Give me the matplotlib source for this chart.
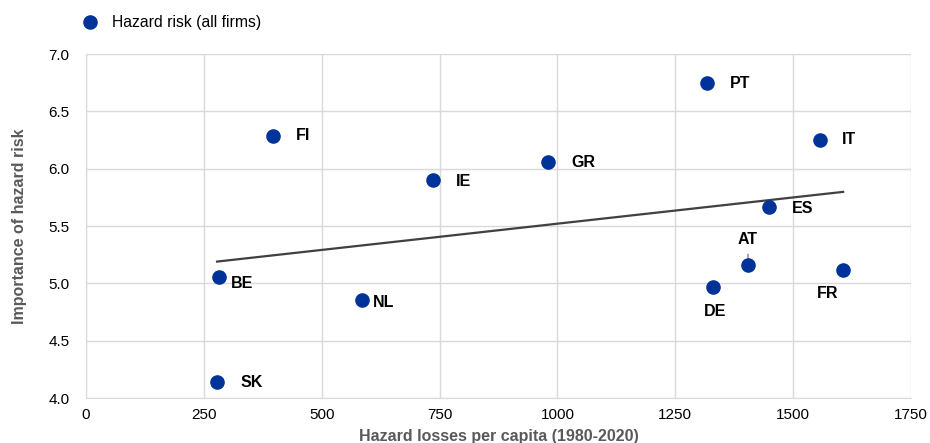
import matplotlib.pyplot as plt
import numpy as np

plt.rcParams['font.family'] = ['Liberation Sans', 'DejaVu Sans']

countries = ["FI", "PT", "IT", "GR", "IE", "ES", "AT", "FR", "DE", "BE", "NL", "SK"]
losses = [397, 1317, 1557, 980, 736, 1449, 1404, 1606, 1330, 282, 585, 278]
importance = [6.285, 6.747, 6.25, 6.058, 5.90, 5.67, 5.16, 5.116, 4.97, 5.055, 4.855, 4.14]

# label offsets in pixels (dx, dy); dx > 5 means left edge of text, else centre
offsets = {
    "FI": (23, 0), "PT": (23, 0), "IT": (22, 0), "GR": (23, 0), "IE": (23, -1),
    "ES": (23, -2), "AT": (0, 25), "FR": (-15, -23), "DE": (2, -25),
    "BE": (12, -6), "NL": (11, -3), "SK": (23, -1),
}

blue = '#003399'

fig = plt.figure(figsize=(9.3, 4.43), dpi=100)
ax = fig.add_axes([86/930, 1-398/443, (911-86)/930, (398-54)/443])

ax.scatter(losses, importance, s=90, color=blue, zorder=3, label="Hazard risk (all firms)")

# linear trend
x = np.array(losses, dtype=float)
y = np.array(importance)
k, b = np.polyfit(x, y, 1)
xs = np.array([x.min(), x.max()])
ax.plot(xs, k*xs + b, color='#404040', lw=1.6, zorder=2)

for c, xv, yv in zip(countries, losses, importance):
    dx, dy = offsets[c]
    if c == "AT":
        ax.annotate(c, (xv, yv), xytext=(dx, dy), textcoords='offset pixels',
                    ha='center', va='center', fontsize=11.5, fontweight='bold',
                    arrowprops=dict(arrowstyle='-', color='#a0a0a0', lw=1.3,
                                    shrinkA=3, shrinkB=2), zorder=2)
    else:
        ha = 'left' if dx > 5 else 'center'
        ax.annotate(c, (xv, yv), xytext=(dx, dy),
                    textcoords='offset pixels', ha=ha, va='center',
                    fontsize=11.5, fontweight='bold')

ax.set_xlim(0, 1750)
ax.set_ylim(4.0, 7.0)
ax.set_xticks(np.arange(0, 1751, 250))
ax.set_yticks(np.arange(4.0, 7.01, 0.5))
ax.set_yticklabels([f"{v:.1f}" for v in np.arange(4.0, 7.01, 0.5)])
ax.tick_params(axis='both', length=0, labelsize=11, colors='#000000')
ax.tick_params(axis='y', pad=12)
ax.tick_params(axis='x', pad=7)
ax.grid(True, color='#d9d9d9', lw=1)
ax.set_axisbelow(True)
for s in ['top', 'right']:
    ax.spines[s].set_visible(False)
for s in ['left', 'bottom']:
    ax.spines[s].set_color('#d9d9d9')

ax.set_ylabel("Importance of hazard risk", fontsize=11.5, fontweight='bold',
              color='#595959', labelpad=15)
fig.text((86+911)/2/930, 1-437/443, "Hazard losses per capita (1980-2020)",
         ha='center', va='center', fontsize=11.5, fontweight='bold', color='#595959')

fig.legend(loc='center left', bbox_to_anchor=(66/930, 1-22/443), frameon=False,
           fontsize=11.3, handletextpad=0.4, borderpad=0)

fig.savefig("out.png", dpi=100)
